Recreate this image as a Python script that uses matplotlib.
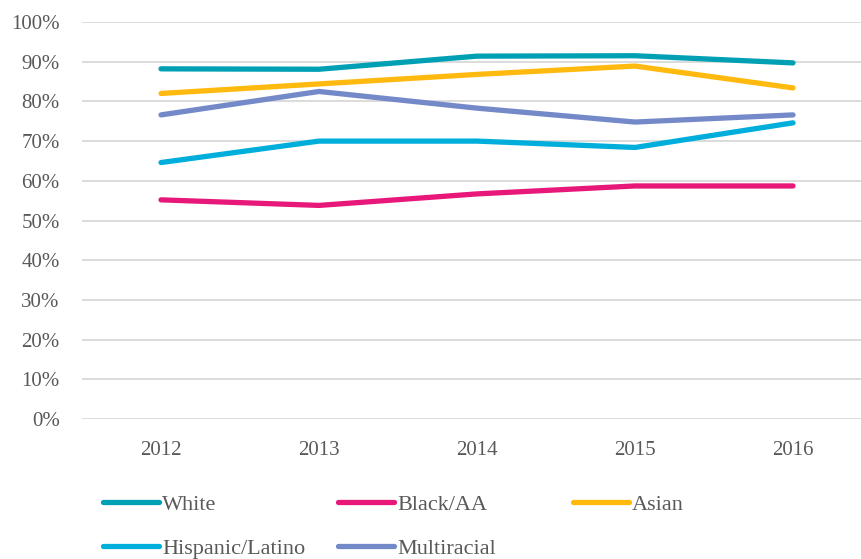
import matplotlib
matplotlib.use("Agg")
import matplotlib.pyplot as plt
from matplotlib.ticker import PercentFormatter

years = ["2012", "2013", "2014", "2015", "2016"]
white = [88.2, 88.1, 91.4, 91.5, 89.7]
black_aa = [55.2, 53.8, 56.7, 58.7, 58.7]
asian = [82.0, 84.4, 86.8, 88.9, 83.4]
hispanic = [64.6, 70.0, 70.0, 68.4, 74.6]
multiracial = [76.6, 82.5, 78.3, 74.8, 76.6]

series_names = ["White", "Black/AA", "Asian", "Hispanic/Latino", "Multiracial"]
series_vals = [white, black_aa, asian, hispanic, multiracial]
colors = ["#00A0B4", "#E8187A", "#FFB90F", "#00AEDB", "#7489C8"]
yticks = [0, 10, 20, 30, 40, 50, 60, 70, 80, 90, 100]

plt.rcParams['font.family'] = ['Liberation Serif', 'DejaVu Serif']
text_color = "#595959"

fig = plt.figure(figsize=(8.61, 5.59), dpi=100)
ax = fig.add_axes([82/861, 1-419/559, (872-82)/861, (419-22)/559])

x = list(range(len(years)))
lines = []
for name, vals, c in zip(series_names, series_vals, colors):
    ln, = ax.plot(x, vals, color=c, lw=3.8, solid_capstyle='round', label=name)
    lines.append(ln)

ax.set_xlim(-0.5, len(years) - 0.5)
ax.set_ylim(0, 100)
ax.set_yticks(yticks)
ax.yaxis.set_major_formatter(PercentFormatter(decimals=0))
ax.set_xticks(x)
ax.set_xticklabels(years)
ax.grid(axis='y', color="#D9D9D9", lw=1.3)
ax.set_axisbelow(True)
for s in ax.spines.values():
    s.set_visible(False)
ax.tick_params(axis='both', length=0, colors=text_color, labelsize=15)
ax.tick_params(axis='y', pad=16)
ax.tick_params(axis='x', pad=16)

cols = [[0, 3], [1, 4], [2]]
xs = [103, 338, 573]
for col, xp in zip(cols, xs):
    leg = fig.legend([lines[i] for i in col], [series_names[i] for i in col],
                     loc='upper left', bbox_to_anchor=(xp/861, 1-494/559),
                     frameon=False, fontsize=16, handlelength=2.5,
                     handletextpad=0.15, borderpad=0, borderaxespad=0,
                     labelspacing=1.07, labelcolor=text_color)

fig.savefig("out.png", dpi=100)
